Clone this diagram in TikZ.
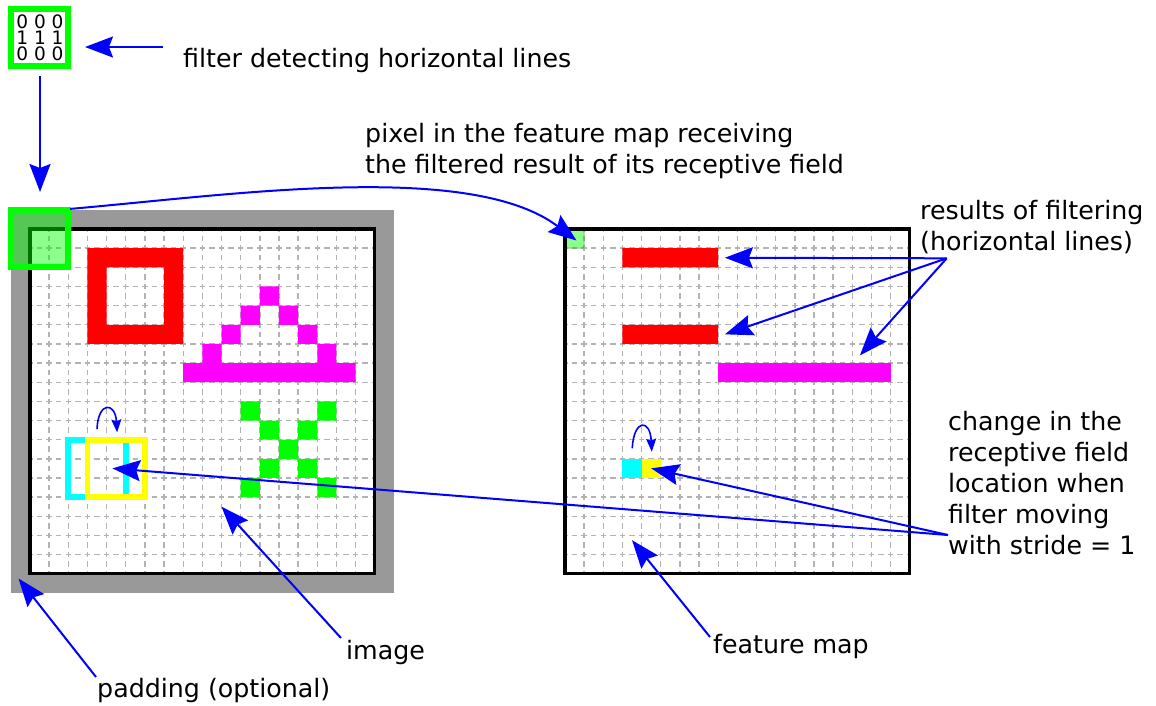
\documentclass[tikz,border=0pt]{standalone}
\usepackage{fontspec}
\setmainfont{DejaVu Sans}
\usetikzlibrary{arrows.meta}
\definecolor{padgray}{HTML}{999999}
\definecolor{gridgray}{HTML}{B3B3B3}
\definecolor{cR}{RGB}{255,0,0}
\definecolor{cM}{RGB}{255,0,255}
\definecolor{cG}{RGB}{0,255,0}
\definecolor{cC}{RGB}{0,255,255}
\definecolor{cY}{RGB}{255,255,0}
\definecolor{cB}{RGB}{0,0,255}
\begin{document}
\begin{tikzpicture}[x=1pt,y=-1pt,
  lbl/.style={anchor=base west, inner sep=0pt, font=\fontsize{25.3}{31}\selectfont},
  digits/.style={inner sep=0pt, align=center, font=\fontsize{18.5}{16}\selectfont},
  arr/.style={draw=cB, line width=2pt, -{Stealth[length=28pt,width=21pt,inset=4pt]}},
  sarr/.style={draw=cB, line width=1.6pt, -{Stealth[length=13pt,width=10pt,inset=2pt]}},
  gridl/.style={draw=gridgray, line width=1.4pt, dash pattern=on 5.5pt off 4.075pt, dash phase=2.75pt},
  frame/.style={draw=black, line width=3.5pt},
  rfbox/.style={line width=5.7pt},
  filtbox/.style={draw=cG, line width=5.7pt, fill=white, minimum size=57pt, inner sep=0pt}
]
\useasboundingbox (0,0) rectangle (1156,705);

% ---------------- image ----------------
\begin{scope}[shift={(30,229)}, x=19.15pt, y=-19.15pt]
  \fill[padgray] (-1,-1) rectangle (19,19);
  \fill[white] (0,0) rectangle (18,18);
  \foreach \i in {1,...,17} {
    \draw[gridl] (\i,0) -- (\i,18);
    \draw[gridl] (0,\i) -- (18,\i);
  }
  \fill[cR, even odd rule] (3,1) rectangle (8,6) (4,2) rectangle (7,5);
  \fill[cM] (12,3) rectangle ++(1,1) (11,4) rectangle ++(1,1) (13,4) rectangle ++(1,1)
     (10,5) rectangle ++(1,1) (14,5) rectangle ++(1,1) (9,6) rectangle ++(1,1) (15,6) rectangle ++(1,1)
     (8,7) rectangle (17,8);
  \fill[cG] (11,9) rectangle ++(1,1) (15,9) rectangle ++(1,1) (12,10) rectangle ++(1,1)
     (14,10) rectangle ++(1,1) (13,11) rectangle ++(1,1) (12,12) rectangle ++(1,1)
     (14,12) rectangle ++(1,1) (11,13) rectangle ++(1,1) (15,13) rectangle ++(1,1);
  \draw[rfbox, cC] (2,11) rectangle (5,14);
  \draw[rfbox, cY] (3,11) rectangle (6,14);
  \draw[frame] (0,0) rectangle (18,18);
  \draw[draw=cG, line width=5.7pt, fill=cG, fill opacity=0.45] (-1,-1) rectangle (2,2);
  \coordinate (imgrf) at (2.1,-1.05);
  \coordinate (imgyel) at (4.3,12.5);
  \coordinate (imgpt) at (10,14.5);
  \coordinate (imgpad) at (-0.6,18.25);
  \coordinate (ia1) at (3.5,10.45);
  \coordinate (ia2) at (4.55,10.62);
  \draw[sarr] (ia1) .. controls (3.55,9.0) and (4.45,9.0) .. (ia2);
\end{scope}

% ---------------- feature map ----------------
\begin{scope}[shift={(565,229)}, x=19.15pt, y=-19.15pt]
  \fill[white] (0,0) rectangle (18,18);
  \foreach \i in {1,...,17} {
    \draw[gridl] (\i,0) -- (\i,18);
    \draw[gridl] (0,\i) -- (18,\i);
  }
  \fill[cR] (3,1) rectangle (8,2) (3,5) rectangle (8,6);
  \fill[cM] (8,7) rectangle (17,8);
  \fill[cC] (3,12) rectangle ++(1,1);
  \fill[cY] (4,12) rectangle ++(1,1);
  \draw[fill=cG, fill opacity=0.45, draw=cG!60!black, draw opacity=0.4, line width=1pt, rounded corners=1.5pt] (0,0) rectangle (1,1);
  \draw[frame] (0,0) rectangle (18,18);
  \coordinate (fmpix) at (0.6,0.6);
  \coordinate (fmr1) at (8.35,1.5);
  \coordinate (fmr2) at (8.35,5.5);
  \coordinate (fmm) at (15.4,6.6);
  \coordinate (fmyel) at (4.5,12.5);
  \coordinate (fmpt) at (3.5,16.25);
  \coordinate (fa1) at (3.51,11.45);
  \coordinate (fa2) at (4.53,11.63);
  \draw[sarr] (fa1) .. controls (3.6,9.9) and (4.45,9.9) .. (fa2);
\end{scope}

% ---------------- filter ----------------
\node[filtbox] (filt) at (39.5,37.5) {};
\node[digits] (dig) at (40,38) {0 0 0\\1 1 1\\0 0 0};

% ---------------- labels ----------------
\node[lbl] (tfilt) at (183,67) {filter detecting horizontal lines};
\node[lbl] (tpix1) at (365,142) {pixel in the feature map receiving};
\node[lbl] (tpix2) at (365,173) {the filtered result of its receptive field};
\node[lbl] (tres1) at (920,219) {results of filtering};
\node[lbl] (tres2) at (920,250) {(horizontal lines)};
\node[lbl] (tch1) at (948,430) {change in the};
\node[lbl] (tch2) at (948,461) {receptive field};
\node[lbl] (tch3) at (948,492) {location when};
\node[lbl] (tch4) at (948,523) {filter moving};
\node[lbl] (tch5) at (948,554) {with stride = 1};
\node[lbl] (timg) at (346,659) {image};
\node[lbl] (tfm) at (713,653) {feature map};
\node[lbl] (tpad) at (97,697) {padding (optional)};

% ---------------- connectors ----------------
\coordinate (filtA) at (163,47);
\coordinate (filtB) at (85,47);
\coordinate (filtC) at (40,76);
\coordinate (filtD) at (40,192);
\coordinate (resS) at (946.7,258.3);
\coordinate (chS) at (948,535);
\coordinate (imgS) at (341,638);
\coordinate (fmS) at (710,637);
\coordinate (padS) at (96,677);

\draw[arr] (filtA) -- (filtB);
\draw[arr] (filtC) -- (filtD);
\draw[arr] (imgrf) .. controls (230,195) and (470,160) .. (fmpix);
\draw[arr] (resS) -- (fmr1);
\draw[arr] (resS) -- (fmr2);
\draw[arr] (resS) -- (fmm);
\draw[arr] (chS) -- (fmyel);
\draw[arr] (chS) -- (imgyel);
\draw[arr] (fmS) -- (fmpt);
\draw[arr] (imgS) -- (imgpt);
\draw[arr] (padS) -- (imgpad);
\end{tikzpicture}
\end{document}
